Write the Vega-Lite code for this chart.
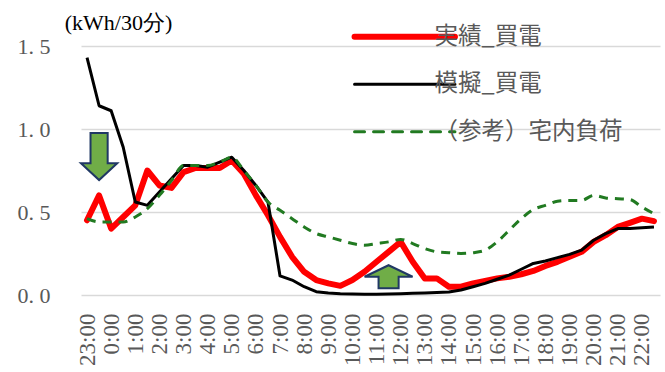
{
  "$schema": "https://vega.github.io/schema/vega-lite/v6.json",
  "width": 579,
  "height": 249,
  "autosize": {"type": "none"},
  "padding": {"left": 81, "top": 46, "right": 5, "bottom": 77},
  "background": "#FFFFFF",
  "config": {
    "view": {"stroke": null},
    "font": "Liberation Serif"
  },
  "data": {
    "values": [
      {"t": "23:00", "実績_買電": 0.45, "模擬_買電": 1.43, "（参考）宅内負荷": 0.46},
      {"t": "23:30", "実績_買電": 0.60, "模擬_買電": 1.14, "（参考）宅内負荷": 0.44},
      {"t": "0:00", "実績_買電": 0.40, "模擬_買電": 1.11, "（参考）宅内負荷": 0.44},
      {"t": "0:30", "実績_買電": 0.47, "模擬_買電": 0.89, "（参考）宅内負荷": 0.44},
      {"t": "1:00", "実績_買電": 0.54, "模擬_買電": 0.56, "（参考）宅内負荷": 0.47},
      {"t": "1:30", "実績_買電": 0.75, "模擬_買電": 0.54, "（参考）宅内負荷": 0.52},
      {"t": "2:00", "実績_買電": 0.66, "模擬_買電": 0.62, "（参考）宅内負荷": 0.60},
      {"t": "2:30", "実績_買電": 0.645, "模擬_買電": 0.70, "（参考）宅内負荷": 0.69},
      {"t": "3:00", "実績_買電": 0.74, "模擬_買電": 0.78, "（参考）宅内負荷": 0.78},
      {"t": "3:30", "実績_買電": 0.765, "模擬_買電": 0.78, "（参考）宅内負荷": 0.78},
      {"t": "4:00", "実績_買電": 0.765, "模擬_買電": 0.77, "（参考）宅内負荷": 0.78},
      {"t": "4:30", "実績_買電": 0.765, "模擬_買電": 0.80, "（参考）宅内負荷": 0.80},
      {"t": "5:00", "実績_買電": 0.81, "模擬_買電": 0.83, "（参考）宅内負荷": 0.83},
      {"t": "5:30", "実績_買電": 0.73, "模擬_買電": 0.75, "（参考）宅内負荷": 0.75},
      {"t": "6:00", "実績_買電": 0.60, "模擬_買電": 0.66, "（参考）宅内負荷": 0.66},
      {"t": "6:30", "実績_買電": 0.48, "模擬_買電": 0.56, "（参考）宅内負荷": 0.56},
      {"t": "7:00", "実績_買電": 0.35, "模擬_買電": 0.115, "（参考）宅内負荷": 0.51},
      {"t": "7:30", "実績_買電": 0.23, "模擬_買電": 0.09, "（参考）宅内負荷": 0.46},
      {"t": "8:00", "実績_買電": 0.14, "模擬_買電": 0.05, "（参考）宅内負荷": 0.41},
      {"t": "8:30", "実績_買電": 0.09, "模擬_買電": 0.02, "（参考）宅内負荷": 0.37},
      {"t": "9:00", "実績_買電": 0.07, "模擬_買電": 0.012, "（参考）宅内負荷": 0.35},
      {"t": "9:30", "実績_買電": 0.055, "模擬_買電": 0.008, "（参考）宅内負荷": 0.33},
      {"t": "10:00", "実績_買電": 0.09, "模擬_買電": 0.006, "（参考）宅内負荷": 0.31},
      {"t": "10:30", "実績_買電": 0.14, "模擬_買電": 0.005, "（参考）宅内負荷": 0.30},
      {"t": "11:00", "実績_買電": 0.20, "模擬_買電": 0.005, "（参考）宅内負荷": 0.31},
      {"t": "11:30", "実績_買電": 0.26, "模擬_買電": 0.006, "（参考）宅内負荷": 0.32},
      {"t": "12:00", "実績_買電": 0.32, "模擬_買電": 0.008, "（参考）宅内負荷": 0.335},
      {"t": "12:30", "実績_買電": 0.20, "模擬_買電": 0.01, "（参考）宅内負荷": 0.31},
      {"t": "13:00", "実績_買電": 0.10, "模擬_買電": 0.012, "（参考）宅内負荷": 0.28},
      {"t": "13:30", "実績_買電": 0.10, "模擬_買電": 0.015, "（参考）宅内負荷": 0.26},
      {"t": "14:00", "実績_買電": 0.05, "模擬_買電": 0.018, "（参考）宅内負荷": 0.255},
      {"t": "14:30", "実績_買電": 0.05, "模擬_買電": 0.03, "（参考）宅内負荷": 0.25},
      {"t": "15:00", "実績_買電": 0.07, "模擬_買電": 0.05, "（参考）宅内負荷": 0.255},
      {"t": "15:30", "実績_買電": 0.085, "模擬_買電": 0.07, "（参考）宅内負荷": 0.27},
      {"t": "16:00", "実績_買電": 0.10, "模擬_買電": 0.095, "（参考）宅内負荷": 0.32},
      {"t": "16:30", "実績_買電": 0.11, "模擬_買電": 0.12, "（参考）宅内負荷": 0.39},
      {"t": "17:00", "実績_買電": 0.125, "模擬_買電": 0.155, "（参考）宅内負荷": 0.46},
      {"t": "17:30", "実績_買電": 0.145, "模擬_買電": 0.19, "（参考）宅内負荷": 0.515},
      {"t": "18:00", "実績_買電": 0.175, "模擬_買電": 0.205, "（参考）宅内負荷": 0.54},
      {"t": "18:30", "実績_買電": 0.20, "模擬_買電": 0.225, "（参考）宅内負荷": 0.565},
      {"t": "19:00", "実績_買電": 0.23, "模擬_買電": 0.245, "（参考）宅内負荷": 0.57},
      {"t": "19:30", "実績_買電": 0.26, "模擬_買電": 0.27, "（参考）宅内負荷": 0.57},
      {"t": "20:00", "実績_買電": 0.32, "模擬_買電": 0.33, "（参考）宅内負荷": 0.60},
      {"t": "20:30", "実績_買電": 0.36, "模擬_買電": 0.37, "（参考）宅内負荷": 0.585},
      {"t": "21:00", "実績_買電": 0.41, "模擬_買電": 0.40, "（参考）宅内負荷": 0.58},
      {"t": "21:30", "実績_買電": 0.435, "模擬_買電": 0.40, "（参考）宅内負荷": 0.575},
      {"t": "22:00", "実績_買電": 0.46, "模擬_買電": 0.405, "（参考）宅内負荷": 0.53},
      {"t": "22:30", "実績_買電": 0.445, "模擬_買電": 0.41, "（参考）宅内負荷": 0.49}
    ]
  },
  "encoding": {
    "x": {
      "field": "t",
      "type": "ordinal",
      "scale": {
        "type": "point",
        "padding": 0.5,
        "domain": ["23:00","23:30","0:00","0:30","1:00","1:30","2:00","2:30","3:00","3:30","4:00","4:30","5:00","5:30","6:00","6:30","7:00","7:30","8:00","8:30","9:00","9:30","10:00","10:30","11:00","11:30","12:00","12:30","13:00","13:30","14:00","14:30","15:00","15:30","16:00","16:30","17:00","17:30","18:00","18:30","19:00","19:30","20:00","20:30","21:00","21:30","22:00","22:30"]
      },
      "axis": {
        "title": null,
        "values": ["23:00","0:00","1:00","2:00","3:00","4:00","5:00","6:00","7:00","8:00","9:00","10:00","11:00","12:00","13:00","14:00","15:00","16:00","17:00","18:00","19:00","20:00","21:00","22:00"],
        "labelAngle": -90,
        "labelFont": "Liberation Serif",
        "labelFontSize": 23,
        "labelColor": "#595959",
        "labelPadding": 18,
        "labelOverlap": false,
        "labelBound": false,
        "ticks": false,
        "domain": false,
        "grid": false
      }
    },
    "y": {
      "field": "v",
      "type": "quantitative",
      "scale": {"domain": [0, 1.5], "nice": false, "zero": true},
      "axis": {
        "title": "(kWh/30分)",
        "titleAngle": 0,
        "titleX": 37,
        "titleY": -24,
        "titleAlign": "center",
        "titleBaseline": "middle",
        "titleFont": "Liberation Serif",
        "titleFontSize": 22,
        "titleFontWeight": "normal",
        "titleColor": "#000000",
        "values": [0, 0.5, 1, 1.5],
        "format": ".1f",
        "labelExpr": "replace(datum.label, '.', '. ')",
        "labelFont": "Liberation Serif",
        "labelFontSize": 22,
        "labelColor": "#595959",
        "labelPadding": 31,
        "ticks": false,
        "domain": false,
        "grid": true,
        "gridColor": "#D9D9D9",
        "gridWidth": 1.5
      }
    }
  },
  "layer": [
    {
      "transform": [
        {"fold": ["実績_買電", "模擬_買電", "（参考）宅内負荷"], "as": ["s", "v"]}
      ],
      "layer": [
        {
          "transform": [{"filter": "datum.s === '実績_買電'"}],
          "mark": {"type": "line", "strokeWidth": 6, "strokeJoin": "round", "strokeCap": "round"},
          "encoding": {
            "color": {
              "field": "s",
              "type": "nominal",
              "scale": {"domain": ["実績_買電", "模擬_買電", "（参考）宅内負荷"], "range": ["#FF0000", "#000000", "#217A21"]},
              "legend": {
                "title": null,
                "orient": "none",
                "legendX": 312,
                "legendY": -21,
                "padding": 0,
                "symbolType": "stroke",
                "symbolSize": 10082,
                "symbolStrokeWidth": 3,
                "labelFont": "Noto Sans CJK JP",
                "labelFontSize": 23.5,
                "labelColor": "#595959",
                "labelOffset": 18,
                "labelLimit": 400,
                "rowPadding": 22.5,
                "encode": {
                  "symbols": {
                    "update": {
                      "strokeWidth": {"signal": "datum.value === '実績_買電' ? 6 : 3"},
                      "strokeDash": {"signal": "datum.value === '（参考）宅内負荷' ? [10, 9] : [1, 0]"},
                      "strokeCap": {"value": "round"}
                    }
                  }
                }
              }
            }
          }
        },
        {
          "transform": [{"filter": "datum.s === '模擬_買電'"}],
          "mark": {"type": "line", "strokeWidth": 3, "strokeJoin": "round"},
          "encoding": {
            "color": {
              "field": "s",
              "type": "nominal",
              "scale": {"domain": ["実績_買電", "模擬_買電", "（参考）宅内負荷"], "range": ["#FF0000", "#000000", "#217A21"]}
            }
          }
        },
        {
          "transform": [{"filter": "datum.s === '（参考）宅内負荷'"}],
          "mark": {"type": "line", "strokeWidth": 3, "strokeDash": [9, 7], "interpolate": "monotone"},
          "encoding": {
            "color": {
              "field": "s",
              "type": "nominal",
              "scale": {"domain": ["実績_買電", "模擬_買電", "（参考）宅内負荷"], "range": ["#FF0000", "#000000", "#217A21"]}
            }
          }
        }
      ]
    },
    {
      "data": {"values": [{"t": "23:30", "v": 0.834}]},
      "mark": {
        "type": "point",
        "shape": "M-0.35,-0.96L0.35,-0.96L0.35,0.27L0.74,0.27L0,0.96L-0.74,0.27L-0.35,0.27Z",
        "size": 2401,
        "filled": true,
        "fill": "#70AD47",
        "stroke": "#203864",
        "strokeWidth": 2,
        "opacity": 1
      }
    },
    {
      "data": {"values": [{"t": "11:30", "v": 0.11}]},
      "mark": {
        "type": "point",
        "shape": "M0,-0.47L0.98,0L0.41,0L0.41,0.47L-0.41,0.47L-0.41,0L-0.98,0Z",
        "size": 2401,
        "dx": -5,
        "filled": true,
        "fill": "#70AD47",
        "stroke": "#203864",
        "strokeWidth": 2,
        "opacity": 1
      }
    }
  ]
}
